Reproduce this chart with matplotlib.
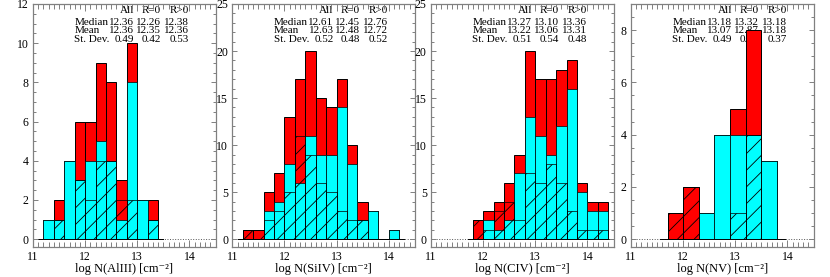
import numpy as np
import matplotlib
matplotlib.use('Agg')
import matplotlib.pyplot as plt
from matplotlib.ticker import MultipleLocator

plt.rcParams['font.family'] = ['Liberation Serif', 'DejaVu Serif']
plt.rcParams['hatch.linewidth'] = 0.6

# histogram bins (left edge, width) and counts: All, R=0 (hatched), R>0 (cyan)
alIII_start, alIII_w = 11.2, 0.2
alIII_all = [1, 2, 4, 6, 6, 9, 8, 3, 10, 2, 2]
alIII_r0 = [0, 1, 0, 3, 2, 4, 4, 2, 2, 0, 1]
alIII_rpos = [1, 1, 4, 3, 4, 5, 4, 1, 8, 2, 1]

siIV_start, siIV_w = 11.2, 0.2
siIV_all = [1, 1, 5, 7, 13, 17, 20, 15, 14, 17, 10, 4, 3, 0, 1]
siIV_r0 = [1, 1, 2, 3, 5, 11, 9, 6, 5, 3, 2, 2, 0, 0, 0]
siIV_rpos = [0, 0, 3, 4, 8, 6, 11, 9, 9, 14, 8, 2, 3, 0, 1]

cIV_start, cIV_w = 11.8, 0.2
cIV_all = [2, 3, 4, 6, 9, 20, 17, 17, 18, 19, 6, 4, 4]
cIV_r0 = [2, 1, 3, 4, 2, 7, 6, 8, 6, 3, 1, 1, 1]
cIV_rpos = [0, 2, 1, 2, 7, 13, 11, 9, 12, 16, 5, 3, 3]

nV_start, nV_w = 11.7, 0.3
nV_all = [1, 2, 1, 4, 5, 8, 3]
nV_r0 = [1, 2, 0, 0, 1, 4, 0]
nV_rpos = [0, 0, 1, 4, 4, 4, 3]

xlabels = ['log N(AlIII) [cm⁻²]', 'log N(SiIV) [cm⁻²]',
           'log N(CIV) [cm⁻²]', 'log N(NV) [cm⁻²]']
ymax = [12, 25, 25, 9]
ymajor = [2, 5, 5, 2]
yminor = [0.5, 1, 1, 0.5]

# statistics: rows Median, Mean, St. Dev.; columns All, R=0, R>0
stats = [
    [['12.36', '12.26', '12.38'], ['12.36', '12.35', '12.36'], ['0.49', '0.42', '0.53']],
    [['12.61', '12.45', '12.76'], ['12.63', '12.48', '12.72'], ['0.52', '0.48', '0.52']],
    [['13.27', '13.10', '13.36'], ['13.22', '13.06', '13.31'], ['0.51', '0.54', '0.48']],
    [['13.18', '13.32', '13.18'], ['13.07', '12.87', '13.18'], ['0.49', '0.66', '0.37']],
]
row_names = ['Median', 'Mean', 'St. Dev.']
col_names = ['All', 'R=0', 'R>0']

panels = [
    (alIII_start, alIII_w, alIII_all, alIII_r0, alIII_rpos),
    (siIV_start, siIV_w, siIV_all, siIV_r0, siIV_rpos),
    (cIV_start, cIV_w, cIV_all, cIV_r0, cIV_rpos),
    (nV_start, nV_w, nV_all, nV_r0, nV_rpos),
]

fig = plt.figure(figsize=(8.3, 2.77), dpi=100)
lefts = [33, 232.3, 431, 631]
spine_col = '#808080'

for i, (start, w, h_all, h_r0, h_rpos) in enumerate(panels):
    ax = fig.add_axes([lefts[i] / 830, 30 / 277, 182.5 / 830, 243 / 277])
    edges = start + w * np.arange(len(h_all))

    ax.axhline(0, ls=':', color='#555555', lw=0.7, zorder=1)
    ax.bar(edges, h_all, width=w, align='edge', color='#ff0000',
           edgecolor='black', lw=0.7, zorder=2)
    ax.bar(edges, h_rpos, width=w, align='edge', color='#00ffff',
           edgecolor='black', lw=0.5, zorder=3)
    ax.bar(edges, h_r0, width=w, align='edge', fill=False, hatch='//',
           edgecolor='black', lw=0.5, zorder=4)
    ax.plot([edges[0] - w / 2, edges[-1] + w * 1.5], [0, 0], color='black',
            lw=0.7, zorder=1.5)

    ax.set_xlim(11, 14.5)
    ax.set_ylim(-ymax[i] / 30, ymax[i])
    ax.xaxis.set_major_locator(MultipleLocator(1))
    ax.xaxis.set_minor_locator(MultipleLocator(0.1))
    ax.yaxis.set_major_locator(MultipleLocator(ymajor[i]))
    ax.yaxis.set_minor_locator(MultipleLocator(yminor[i]))
    ax.tick_params(which='both', direction='in', top=True, right=True,
                   color=spine_col, width=0.7, labelsize=8.5)
    ax.tick_params(axis='x', which='major', length=5, pad=3)
    ax.tick_params(axis='x', which='minor', length=3.5)
    ax.tick_params(axis='y', which='major', length=3.5, pad=3)
    ax.tick_params(axis='y', which='minor', length=2)
    for s in ax.spines.values():
        s.set_color(spine_col)
        s.set_linewidth(0.9)
    ax.set_xlabel(xlabels[i], fontsize=9, labelpad=0)

    # stats table
    fs = 8
    col_x = [0.555, 0.70, 0.855]
    ys = [0.923, 0.889, 0.855]
    for c, name in enumerate(col_names):
        ax.text(col_x[c], 0.972, name, transform=ax.transAxes, ha='right',
                va='center', fontsize=fs, zorder=0.5)
    for r, name in enumerate(row_names):
        ax.text(0.227, ys[r], name, transform=ax.transAxes, ha='left',
                va='center', fontsize=fs, zorder=0.5)
        for c in range(3):
            ax.text(col_x[c], ys[r], stats[i][r][c], transform=ax.transAxes,
                    ha='right', va='center', fontsize=fs, zorder=0.5)

plt.savefig('out.png', dpi=100)
